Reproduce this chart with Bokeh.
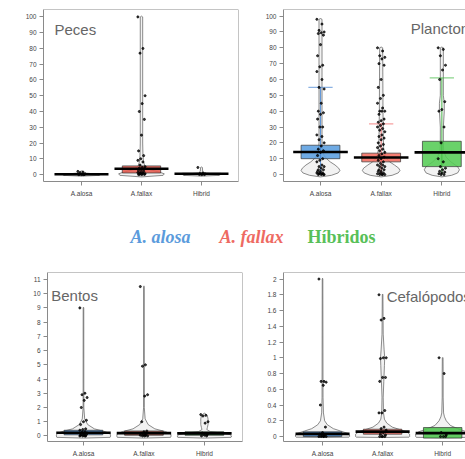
from bokeh.plotting import figure
from bokeh.layouts import column, row
from bokeh.models import FixedTicker, Range1d, Label, Span, NumeralTickFormatter
from bokeh.embed import file_html
from bokeh.resources import INLINE

CATS = [1, 2, 3]
TICK_LABELS = ["A.alosa", "A.fallax", "Hibrid"]
LEGEND_TEXTS = ["A. alosa", "A. fallax", "Híbridos"]

# ---------------- Peces ----------------
peces_pts = [
    [2.0, 1.6, 1.2, 0.5, 0.3, 0.2, 0.1, 0.0, 0.0, 0.0],
    [100, 80, 77, 50, 45, 40, 35, 25, 15, 12, 10, 9, 8, 6, 5, 4.5, 4, 3.5, 3, 2.5, 2,
     1.5, 1.2, 1, 0.8, 0.5, 0.3, 0.2, 0.1, 0, 0],
    [4.5, 1.0, 0.6, 0.4, 0.2, 0.1, 0, 0],
]
peces_box_lo = [0.0, 1.0, 0.0]
peces_box_hi = [0.4, 5.5, 0.8]
peces_mean = [0.2, 3.7, 0.5]
peces_vy = [
    [-1.0, -0.5, 0.5, 1, 1.5, 2.0, 2.3],
    [-1.5, -0.5, 0.5, 1.5, 3, 5, 8, 12, 20, 100, 100.5],
    [-1.0, -0.5, 0.5, 1, 2, 4.5, 4.8],
]
peces_vw = [
    [0, 0.3, 0.2, 0.05, 0.03, 0.02, 0],
    [0, 0.36, 0.38, 0.3, 0.15, 0.06, 0.035, 0.025, 0.02, 0.02, 0],
    [0, 0.3, 0.2, 0.05, 0.02, 0.015, 0],
]

# ---------------- Plancton ----------------
plancton_pts = [
    [98, 95, 91, 90, 89.5, 89, 88, 82, 75, 69, 68, 65, 60, 55, 54, 45, 40, 39, 38, 35, 30, 30,
     25, 24, 22, 20, 18, 16, 15, 14, 12, 10, 9, 8, 6, 5, 5, 4, 3, 3, 2, 2, 1, 1, 1, 0.5, 0.5,
     0, 0, 0, 0],
    [80, 78, 75, 74, 73, 70, 69, 60, 55, 50, 48, 45, 42, 40, 40, 40, 38, 35, 34, 33, 32, 31, 30,
     29, 28, 27, 25, 24, 23, 22, 20, 19, 18, 17, 16, 15, 14, 13, 12, 11, 10, 9, 8, 7, 6, 6, 5, 5,
     4, 3, 3, 2, 2, 1, 1, 0.5, 0, 0, 0, 0],
    [80, 79, 75, 69, 66, 60, 46, 41, 40, 30, 20, 10, 8, 5, 4, 3, 2, 1.5, 1, 0.5, 0, 0],
]
plancton_box_lo = [10.0, 8.0, 5.0]
plancton_box_hi = [18.5, 13.5, 21.0]
plancton_mean = [14.2, 10.8, 14.0]
plancton_whisk = [55, 32, 61]
plancton_vy = [
    [-1.5, -0.5, 1, 2.5, 4, 6, 8, 10, 12, 15, 20, 98, 98.5],
    [-1.5, -0.5, 1, 2.5, 4, 6, 8, 10, 13, 17, 25, 40, 80, 80.5],
    [-1.5, -0.5, 1, 3, 5, 8, 11, 15, 20, 30, 40, 45, 50, 80, 80.5],
]
plancton_vw = [
    [0, 0.18, 0.29, 0.32, 0.3, 0.24, 0.16, 0.1, 0.06, 0.035, 0.025, 0.025, 0],
    [0, 0.18, 0.28, 0.31, 0.29, 0.22, 0.14, 0.09, 0.06, 0.04, 0.035, 0.03, 0.025, 0],
    [0, 0.16, 0.26, 0.29, 0.26, 0.15, 0.07, 0.03, 0.025, 0.025, 0.04, 0.04, 0.025, 0.025, 0],
]

# ---------------- Bentos ----------------
bentos_pts = [
    [9.0, 3.0, 2.9, 2.7, 2.5, 2.0, 1.1, 1.0, 0.8, 0.5, 0.45, 0.4, 0.3, 0.25, 0.2, 0.15, 0.1,
     0.1, 0.05, 0.05, 0, 0, 0, 0],
    [10.5, 5.0, 4.9, 2.9, 2.8, 1.0, 0.35, 0.3, 0.2, 0.15, 0.1, 0.05, 0.05, 0, 0, 0],
    [1.5, 1.45, 1.4, 1.0, 0.9, 0.2, 0.1, 0.05, 0, 0],
]
bentos_box_lo = [0.08, 0.05, 0.05]
bentos_box_hi = [0.4, 0.35, 0.3]
bentos_mean = [0.22, 0.2, 0.18]
bentos_vy = [
    [-0.15, -0.1, 0.0, 0.15, 0.3, 0.5, 0.8, 1.2, 2, 9.0, 9.05],
    [-0.15, -0.1, 0.0, 0.15, 0.3, 0.5, 0.8, 1.2, 2, 10.5, 10.55],
    [-0.15, -0.1, 0.0, 0.1, 0.2, 0.3, 0.45, 0.6, 0.8, 1.0, 1.2, 1.4, 1.55, 1.6],
]
bentos_vw = [
    [0, 0.44, 0.45, 0.44, 0.36, 0.18, 0.07, 0.02, 0.006, 0.005, 0],
    [0, 0.44, 0.45, 0.44, 0.36, 0.18, 0.07, 0.02, 0.006, 0.005, 0],
    [0, 0.44, 0.45, 0.42, 0.3, 0.1, 0.04, 0.05, 0.06, 0.06, 0.06, 0.05, 0.02, 0],
]

# ---------------- Cefalópodos ----------------
cefa_pts = [
    [2.0, 0.7, 0.7, 0.69, 0.65, 0.4, 0.12, 0.05, 0.03, 0.02, 0.01, 0, 0, 0, 0, 0],
    [1.8, 1.5, 1.48, 1.0, 1.0, 0.99, 0.75, 0.75, 0.7, 0.33, 0.3, 0.3, 0.12, 0.1, 0.08, 0.05,
     0.03, 0.02, 0, 0, 0, 0],
    [1.0, 0.8, 0.05, 0.02, 0.0, 0.0, 0.0],
]
cefa_box_lo = [0.0, 0.03, -0.02]
cefa_box_hi = [0.06, 0.093, 0.114]
cefa_mean = [0.034, 0.063, 0.043]
cefa_vy = [
    [-0.012, -0.008, 0.0, 0.02, 0.04, 0.07, 0.1, 0.15, 0.2, 0.3, 0.5, 2.0, 2.01],
    [-0.012, -0.008, 0.0, 0.03, 0.06, 0.09, 0.12, 0.17, 0.22, 0.3, 0.5, 0.7, 0.9, 1.0, 1.1,
     1.3, 1.5, 1.8, 1.81],
    [-0.015, -0.01, 0.0, 0.03, 0.06, 0.1, 0.14, 0.2, 0.25, 0.3, 0.5, 0.8, 1.0, 1.005],
]
cefa_vw = [
    [0, 0.44, 0.45, 0.45, 0.42, 0.3, 0.18, 0.08, 0.035, 0.015, 0.008, 0.005, 0],
    [0, 0.44, 0.45, 0.45, 0.4, 0.28, 0.16, 0.07, 0.03, 0.015, 0.01, 0.02, 0.03, 0.035, 0.025,
     0.01, 0.008, 0.005, 0],
    [0, 0.44, 0.45, 0.45, 0.4, 0.25, 0.13, 0.06, 0.03, 0.015, 0.008, 0.008, 0.006, 0],
]

GRAY = "#8a8a8a"


def panel(width, height, borders, xr, yr, yticks, title, title_xy, pts, box_lo, box_hi,
          means, vys, vws, colors, whisk=None, right_border=True, wcolors=None):
    bl, br, bt, bb = borders
    p = figure(width=width, height=height, x_range=Range1d(*xr), y_range=Range1d(*yr),
               output_backend="svg", toolbar_location=None,
               min_border_left=bl, min_border_right=br, min_border_top=bt,
               min_border_bottom=bb)
    p.outline_line_color = None
    p.xgrid.visible = False
    p.ygrid.visible = False
    p.background_fill_color = "white"
    p.border_fill_color = "white"
    for ax in (p.xaxis[0], p.yaxis[0]):
        ax.axis_line_color = GRAY
        ax.axis_line_width = 1
        ax.major_tick_line_color = GRAY
        ax.major_tick_out = 4
        ax.major_tick_in = 0
        ax.minor_tick_line_color = None
        ax.major_label_text_font = "Liberation Sans"
        ax.major_label_text_font_size = "6.5px"
        ax.major_label_text_color = "#444444"
    p.xaxis.ticker = FixedTicker(ticks=CATS)
    p.xaxis.major_label_overrides = {c: t for c, t in zip(CATS, TICK_LABELS)}
    p.xaxis.major_label_standoff = 4
    p.yaxis.ticker = FixedTicker(ticks=yticks)
    p.yaxis.formatter = NumeralTickFormatter(format="0.[0]")
    p.yaxis.major_label_standoff = 3

    p.add_layout(Span(location=yr[1], dimension="width", line_color=GRAY, line_width=1))
    if right_border:
        p.add_layout(Span(location=xr[1], dimension="height", line_color=GRAY, line_width=1))

    # violins
    xs, ys = [], []
    for c, vy, vw in zip(CATS, vys, vws):
        xs.append([c + w for w in vw] + [c - w for w in reversed(vw)])
        ys.append(list(vy) + list(reversed(vy)))
    p.patches(xs=xs, ys=ys, fill_color="#c0c0c0", fill_alpha=0.2,
              line_color="#5a5a5a", line_width=0.7)

    # boxes
    p.quad(left=[c - 0.32 for c in CATS], right=[c + 0.32 for c in CATS],
           bottom=box_lo, top=box_hi, fill_color=colors, fill_alpha=0.88,
           line_color="#333333", line_width=0.7)

    # whisker-like lines
    if whisk is not None:
        p.segment(x0=CATS, x1=CATS, y0=[0] * 3, y1=whisk, line_color=wcolors,
                  line_width=1.1, line_alpha=0.8)
        p.segment(x0=[c - 0.2 for c in CATS], x1=[c + 0.2 for c in CATS], y0=whisk,
                  y1=whisk, line_color=wcolors, line_width=1.3, line_alpha=0.6)

    # mean lines
    p.segment(x0=[c - 0.45 for c in CATS], x1=[c + 0.45 for c in CATS], y0=means, y1=means,
              line_color="black", line_width=2.6)

    # jittered points
    px, py = [], []
    for c, vals in zip(CATS, pts):
        for i, v in enumerate(vals):
            px.append(c + (((i * 7) % 11) - 5) * 0.012)
            py.append(v)
    p.scatter(px, py, size=2.1, color="black", alpha=0.75)

    p.add_layout(Label(x=title_xy[0], y=title_xy[1], text=title, text_font="Liberation Sans",
                       text_font_size="15px", text_color="#666666",
                       text_baseline="alphabetic"))
    return p


p1 = panel(262, 205, (43, 24, 8, 24), (0.367, 3.617), (-4.4, 104.7), list(range(0, 101, 10)),
           "Peces", (0.55, 91.8), peces_pts, peces_box_lo, peces_box_hi, peces_mean,
           peces_vy, peces_vw, ["#4f8fd6", "#e65a4e", "#4cc44c"])
p2 = panel(203, 205, (20, 0, 9, 24), (0.39, 3.39), (-4.4, 104.2), list(range(0, 101, 10)),
           "Plancton", (2.488, 92.1), plancton_pts, plancton_box_lo, plancton_box_hi,
           plancton_mean, plancton_vy, plancton_vw, ["#5a9ee0", "#f26b5e", "#55cc55"],
           whisk=plancton_whisk, right_border=False,
           wcolors=["#3d7fd0", "#f06060", "#3cb83c"])

leg = figure(width=465, height=57, x_range=Range1d(0, 465), y_range=Range1d(0, 57),
             output_backend="svg", toolbar_location=None, min_border=0)
leg.outline_line_color = None
leg.axis.visible = False
leg.xgrid.visible = False
leg.ygrid.visible = False
leg_x = [130, 219, 307]
leg_styles = ["bold italic", "bold italic", "bold"]
leg_colors = ["#5b9bdc", "#ee6a62", "#58c058"]
for t, x, s, col in zip(LEGEND_TEXTS, leg_x, leg_styles, leg_colors):
    leg.add_layout(Label(x=x, y=26, text=t, text_font="Liberation Serif", text_font_style=s,
                         text_font_size="18px", text_color=col,
                         text_baseline="alphabetic"))

p3 = panel(262, 197, (47, 20, 10, 16), (0.405, 3.63), (-0.39, 11.49), list(range(0, 12)),
           "Bentos", (0.466, 9.87), bentos_pts, bentos_box_lo, bentos_box_hi, bentos_mean,
           bentos_vy, bentos_vw, ["#3a75b5", "#b0594a", "#2e8a3a"])
p4 = panel(203, 197, (21, 0, 10, 16), (0.35, 3.38), (-0.063, 2.083),
           [0, 0.2, 0.4, 0.6, 0.8, 1, 1.2, 1.4, 1.6, 1.8, 2],
           "Cefalópodos", (2.067, 1.777), cefa_pts, cefa_box_lo, cefa_box_hi, cefa_mean,
           cefa_vy, cefa_vw, ["#3f7fc4", "#e8645a", "#4cc44c"], right_border=False)

layout = column(row(p1, p2), leg, row(p3, p4))
open("out.html", "w").write(file_html(layout, INLINE))
